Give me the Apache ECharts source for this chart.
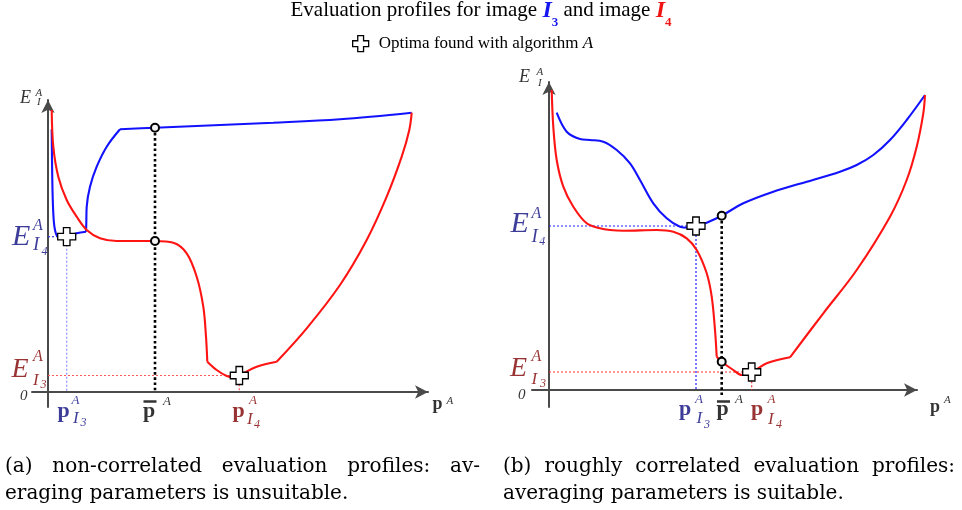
<!DOCTYPE html>
<html><head><meta charset="utf-8">
<script src="https://cdn.jsdelivr.net/npm/echarts@6/dist/echarts.min.js"></script>
<style>html,body{margin:0;padding:0;background:#fff}#c{width:962px;height:510px}</style>
</head><body><div id="c"></div>
<script>
// ---------- DATA (x: parameter p^A, y: evaluation E^A_I) ----------
// Panel (a): non-correlated profiles
const leftBlueDrop = [[3.7,262.7],[4.3,212],[5.3,178.7],[7,162],[10.3,155.3],[18.7,155.3],[28.7,158.7],[38,160.3]];
const leftBlueRise = [[38,160.3],[38.3,168.7],[38.7,185.3],[42,205.3],[48.7,225.3],[58.7,245.3],[72,262.7]];
const leftBlueTop  = [[72,262.7],[107,264.3],[225.3,269.3],[292,272.7],[363.7,279.3]];
const leftRedDrop  = [[3.7,282],[5.3,245.3],[10.3,215.3],[18.7,192],[28.7,175.3],[38.7,162],[52,153.7],[68.7,151],[107,151],[125.3,149.3],[138.7,138.7],[148.7,115.3],[155.3,85.3],[158,55.3],[159.3,30.3]];
const leftRedValley= [[159.3,30.3],[168.7,22],[178.7,16],[185.3,14.7],[192,17],[208.7,25.3],[228.7,30.3]];
const leftRedRise  = [[228.7,30.3],[258.7,63.7],[292,107],[318.7,152],[338.7,195.3],[353.7,235.3],[361.3,262],[363.7,279.3]];
const leftOptBlue = [18.7,155.3];   // optimum of I3 profile
const leftOptRed  = [191.3,16.5];   // optimum of I4 profile
const leftMeanX = 107;              // averaged parameter
const leftMeanVals = [264.3,151];   // blue, red evaluation at mean

// Panel (b): roughly correlated profiles
const rightBlue = [[7.7,277.3],[17.7,258.3],[31,251],[41,250],[54.3,248.3],[67.7,240],[81,226.7],[91,210],[104.3,186.7],[117.7,171.7],[131,163.3],[139.3,162.3],[147,163.3],[157.7,167.3],[172.7,174.3],[194.3,186.7],[224.3,198.3],[257.7,208.3],[291,218.3],[307.7,225],[324.3,235],[341,250],[357.7,270],[376,295]];
const rightRedDrop  = [[2.7,300],[4.3,263.3],[7.7,230],[14.3,203.3],[24.3,183.3],[37.7,166.7],[51,161.7],[61,160],[74.3,159.3],[107.7,160],[124.3,158.3],[137.7,151.7],[147.7,140],[157.7,116.7],[162.7,93.3],[166,60],[167.7,33.3]];
const rightRedValley= [[167.7,33.3],[172.7,28.3],[184.3,20],[192.7,15],[201,16.7],[217.7,26.7],[241,32.7]];
const rightRedRise  = [[241,32.7],[274.3,76.7],[307.7,120],[341,173.3],[357.7,210],[367.7,243.3],[374.3,276.7],[376,295]];
const rightOptBlue = [147,164];
const rightOptRed  = [202.7,18];
const rightMeanX = 172.7;
const rightMeanVals = [174.3,28.3];

const titleParts = ['Evaluation profiles for image ', 'I', '3', ' and image ', 'I', '4'];
const legendLabel = ['Optima found with algorithm ', 'A'];
const captionA = ['(a) non-correlated evaluation profiles: av-', 'eraging parameters is unsuitable.'];
const captionB = ['(b) roughly correlated evaluation profiles:', 'averaging parameters is suitable.'];

// ---------- LAYOUT ----------
const SERIF = '"Liberation Serif","Times New Roman",serif';
const CAPFONT = '20px "DejaVu Serif", serif';
const NAVY = '#0c0c80', DRED = '#800000', BLUE = '#1212ff', RED = '#ff1414', INK = '#000';
// grid 0: panel (a); grid 1: panel (b) axes; grid 2: panel (b) drawing layer (same scale, wider extent)
const grids = [
  {ox:48,  oy:392, xMin:-16, xMax:380, yMin:-15, yMax:292, show:true},
  {ox:549, oy:390, xMin:-17, xMax:368, yMin:-17, yMax:308, show:true},
  {ox:549, oy:390, xMin:-17, xMax:390, yMin:-17, yMax:310, show:false}
];
const CROSS = 'path://M3.5,0H7.5V3.5H11V7.5H7.5V11H3.5V7.5H0V3.5H3.5Z';

function axisCfg(g, i, dim) {
  return {gridIndex:i, type:'value', show:g.show, min:dim==='x'?g.xMin:g.yMin, max:dim==='x'?g.xMax:g.yMax,
    axisLine:{show:true, onZero:true, symbol:['none','arrow'], symbolSize:[10,13], lineStyle:{color:'#4a4a4a', width:2}},
    axisTick:{show:false}, axisLabel:{show:false}, splitLine:{show:false}};
}

function captionGraphics(lines, x0, width, yMid) {
  const ctx = document.createElement('canvas').getContext('2d');
  ctx.font = CAPFONT;
  const words = lines[0].split(' ');
  const ws = words.map(w => ctx.measureText(w).width);
  const gap = (width - ws.reduce((a, b) => a + b, 0)) / (words.length - 1);
  const out = [];
  let x = x0;
  words.forEach((w, i) => {
    out.push({type:'text', x, y:yMid, style:{text:w, font:CAPFONT, fill:INK, verticalAlign:'middle'}});
    x += ws[i] + gap;
  });
  out.push({type:'text', x:x0, y:yMid + 27, style:{text:lines[1], font:CAPFONT, fill:INK, verticalAlign:'middle'}});
  return out;
}

const option = {
  animation:false,
  backgroundColor:'#fff',
  grid: grids.map(g => ({left:g.ox+g.xMin, top:g.oy-g.yMax, width:g.xMax-g.xMin, height:g.yMax-g.yMin})),
  xAxis: grids.map((g,i) => axisCfg(g, i, 'x')),
  yAxis: grids.map((g,i) => axisCfg(g, i, 'y')),
  legend: {
    data:[{name:'opt', icon:CROSS}], left:352, top:35, padding:0, itemWidth:16, itemHeight:16,
    selectedMode:false,
    itemStyle:{color:'#fff', borderColor:INK, borderWidth:1.3},
    formatter: () => '{n|' + legendLabel[0] + '}{i|' + legendLabel[1] + '}',
    textStyle:{padding:[0,0,0,5], rich:{
      n:{fontFamily:SERIF, fontSize:17, color:INK},
      i:{fontFamily:SERIF, fontSize:17, color:INK, fontStyle:'italic'}}}
  },
  graphic: [
    {type:'text', x:481, y:10.5, style:{
      text:'{n|'+titleParts[0]+'}{b|'+titleParts[1]+'}{bs|'+titleParts[2]+'}{n|'+titleParts[3]+'}{r|'+titleParts[4]+'}{rs|'+titleParts[5]+'}',
      align:'center', verticalAlign:'middle',
      rich:{
        n:{fontFamily:SERIF, fontSize:21, fill:INK},
        b:{fontFamily:SERIF, fontSize:24, fontWeight:'bold', fontStyle:'italic', fill:'#1515f0'},
        r:{fontFamily:SERIF, fontSize:24, fontWeight:'bold', fontStyle:'italic', fill:'#f01515'},
        bs:{fontFamily:SERIF, fontSize:13, fontWeight:'bold', fill:'#1515f0', padding:[25,0,0,0]},
        rs:{fontFamily:SERIF, fontSize:13, fontWeight:'bold', fill:'#f01515', padding:[25,0,0,0]}
      }}},
    ...captionGraphics(captionA, 5, 475, 467),
    ...captionGraphics(captionB, 503, 452, 467)
  ],
  series: []
};

function curve(g, data, color) {
  return {type:'line', xAxisIndex:g, yAxisIndex:g, data, smooth:0.35, symbol:'none', showSymbol:false,
    lineStyle:{color, width:2.1}, clip:false, z:4, silent:true};
}
function guide(g, data, color, width, dash) {
  return {type:'line', xAxisIndex:g, yAxisIndex:g, data, symbol:'none', showSymbol:false,
    lineStyle:{color, width, type:dash}, clip:false, z:3, silent:true};
}
function marks(g, optB, optR, mx, mv) {
  return [
    {type:'scatter', name:'opt', xAxisIndex:g, yAxisIndex:g, data:[optB, optR], symbol:CROSS, symbolSize:18,
      itemStyle:{color:'#fff', borderColor:INK, borderWidth:1.3, opacity:1}, z:8, silent:true, clip:false},
    {type:'scatter', xAxisIndex:g, yAxisIndex:g, data:[[mx, mv[0]],[mx, mv[1]]], symbol:'circle', symbolSize:8,
      itemStyle:{color:'#f4f4f4', borderColor:INK, borderWidth:2, opacity:1}, z:7, silent:true, clip:false}
  ];
}
// text pieces: left edge x, vertical centre y (page px) -> data coordinates of the grid
function piece(g, px, py, text, st) {
  const G = grids[g];
  return {value:[px - G.ox, G.oy - py], label:Object.assign({show:true, position:'inside', align:'left', verticalAlign:'middle',
    formatter:text, fontFamily:SERIF, color:INK, fontSize:15}, st)};
}
const it = (size, color) => ({fontStyle:'italic', fontSize:size, color:color||INK});
const bd = (size, color) => ({fontWeight:'bold', fontSize:size, color:color||INK});
const bar = {backgroundColor:INK, width:13, height:2.5, padding:0, fontSize:1, lineHeight:2.5};

const leftLabels = [
  piece(0, 20, 98.5, 'E', it(18)), piece(0, 35.5, 93, 'A', it(11)), piece(0, 37, 102.5, 'I', it(11)),
  piece(0, 12, 236.7, 'E', it(30, NAVY)), piece(0, 33, 225.3, 'A', it(16, NAVY)), piece(0, 33, 245, 'I', it(19, NAVY)), piece(0, 41.5, 252, '4', it(12, NAVY)),
  piece(0, 11.5, 369.7, 'E', it(28, DRED)), piece(0, 33, 357, 'A', it(16, DRED)), piece(0, 33, 380.8, 'I', it(17, DRED)), piece(0, 40.5, 384.5, '3', it(12, DRED)),
  piece(0, 20, 396, '0', it(15)),
  piece(0, 57.5, 411, 'p', bd(22, NAVY)), piece(0, 71.5, 401, 'A', it(13, NAVY)), piece(0, 73, 419, 'I', it(17, NAVY)), piece(0, 80.5, 422.5, '3', it(12, NAVY)),
  piece(0, 143, 411, 'p', bd(22)), piece(0, 143.5, 401.5, ' ', bar), piece(0, 163, 402, 'A', it(13)),
  piece(0, 232.5, 411, 'p', bd(22, DRED)), piece(0, 249, 401, 'A', it(13, DRED)), piece(0, 247, 420, 'I', it(17, DRED)), piece(0, 254, 424.5, '4', it(12, DRED)),
  piece(0, 432.5, 404, 'p', bd(18)), piece(0, 446.5, 401, 'A', it(11))
];
const rightLabels = [
  piece(2, 519, 77, 'E', it(18)), piece(2, 536.5, 71.7, 'A', it(11)), piece(2, 538, 83, 'I', it(11)),
  piece(2, 510.5, 223.7, 'E', it(30, NAVY)), piece(2, 531.5, 213.3, 'A', it(16, NAVY)), piece(2, 531.5, 236.7, 'I', it(19, NAVY)), piece(2, 539.3, 241.5, '4', it(12, NAVY)),
  piece(2, 510, 369, 'E', it(28, DRED)), piece(2, 531.5, 357, 'A', it(16, DRED)), piece(2, 531.5, 380, 'I', it(17, DRED)), piece(2, 540, 384, '3', it(12, DRED)),
  piece(2, 518, 395, '0', it(15)),
  piece(2, 679, 409, 'p', bd(22, NAVY)), piece(2, 695, 400, 'A', it(13, NAVY)), piece(2, 696.5, 419, 'I', it(17, NAVY)), piece(2, 704, 424.5, '3', it(12, NAVY)),
  piece(2, 716.5, 409, 'p', bd(22)), piece(2, 717, 401.5, ' ', bar), piece(2, 735, 400, 'A', it(13)),
  piece(2, 751, 409, 'p', bd(22, DRED)), piece(2, 767.5, 400, 'A', it(13, DRED)), piece(2, 768, 419.3, 'I', it(17, DRED)), piece(2, 776, 424.5, '4', it(12, DRED)),
  piece(2, 930, 407, 'p', bd(18)), piece(2, 944, 400, 'A', it(11))
];

option.series.push(
  curve(0, leftBlueDrop, BLUE), curve(0, leftBlueRise, BLUE), curve(0, leftBlueTop, BLUE),
  curve(0, leftRedDrop, RED), curve(0, leftRedValley, RED), curve(0, leftRedRise, RED),
  guide(0, [[0, leftOptBlue[1]], leftOptBlue], '#3a3ad8', 1.2, [2,2]),
  guide(0, [leftOptBlue, [leftOptBlue[0], 0]], '#8f8fff', 1.2, [2,2]),
  guide(0, [[0, leftOptRed[1]], leftOptRed, [leftOptRed[0], 0]], '#ff5a5a', 1.2, [2,2]),
  guide(0, [[leftMeanX, leftMeanVals[0]], [leftMeanX, 0]], '#000', 2.6, [2.6,2.6]),
  ...marks(0, leftOptBlue, leftOptRed, leftMeanX, leftMeanVals),
  {type:'scatter', xAxisIndex:0, yAxisIndex:0, data:leftLabels, symbolSize:0, z:9, silent:true, clip:false},

  curve(2, rightBlue, BLUE),
  curve(2, rightRedDrop, RED), curve(2, rightRedValley, RED), curve(2, rightRedRise, RED),
  guide(2, [[0, rightOptBlue[1]], rightOptBlue, [rightOptBlue[0], 0]], '#2020ff', 1.2, [2,2]),
  guide(2, [[0, rightOptRed[1]], rightOptRed, [rightOptRed[0], 0]], '#ff3030', 1.2, [2,2]),
  guide(2, [[rightMeanX, rightMeanVals[0]], [rightMeanX, -5]], '#000', 2.6, [2.6,2.6]),
  ...marks(2, rightOptBlue, rightOptRed, rightMeanX, rightMeanVals),
  {type:'scatter', xAxisIndex:2, yAxisIndex:2, data:rightLabels, symbolSize:0, z:9, silent:true, clip:false}
);

const chart = echarts.init(document.getElementById('c'));
chart.setOption(option);
</script></body></html>
